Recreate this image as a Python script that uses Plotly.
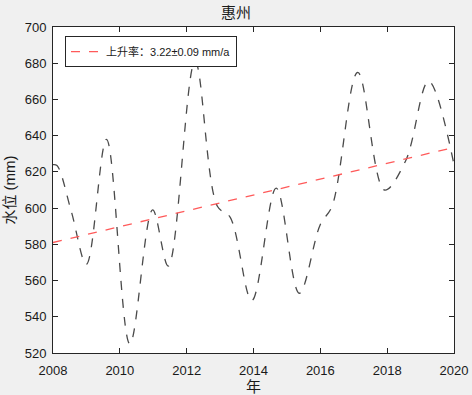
import plotly.graph_objects as go

years = [2008.0, 2008.12, 2008.55, 2009.0, 2009.6, 2010.3, 2010.98, 2011.45, 2012.25,
         2012.92, 2013.3, 2013.95, 2014.68, 2015.37, 2016.0, 2016.35, 2017.12, 2017.92,
         2018.55, 2019.24, 2020.0]
level = [624, 623.5, 598, 569, 638, 525, 599, 568, 681,
         601, 595, 549, 611, 553, 591, 601, 675, 610,
         626, 670, 624]
trend_years = [2008, 2020]
trend_vals = [581, 633.5]
trend_label = "上升率：3.22±0.09 mm/a"
title = "惠州"
xtick_vals = [2008, 2010, 2012, 2014, 2016, 2018, 2020]
ytick_vals = [520, 540, 560, 580, 600, 620, 640, 660, 680, 700]

font_family = "Liberation Sans, Arial, Noto Sans CJK SC, sans-serif"
txt = "#1a1a1a"

fig = go.Figure()
fig.add_trace(go.Scatter(
    x=years, y=level, mode="lines", showlegend=False,
    line=dict(color="#4a4a4a", width=1.3, dash="dash", shape="spline", smoothing=1.0),
))
fig.add_trace(go.Scatter(
    x=trend_years, y=trend_vals, mode="lines", name=trend_label,
    line=dict(color="#ff5a5a", width=1.3, dash="dash"),
))

axis_common = dict(
    showline=True, linecolor="#262626", linewidth=1, mirror="ticks",
    ticks="inside", ticklen=5, tickcolor="#262626", showgrid=False, zeroline=False,
    tickfont=dict(family=font_family, size=13, color=txt), automargin=False,
)
fig.update_xaxes(range=[2008, 2020], tickvals=xtick_vals, ticklabelstandoff=5,
                 title=dict(text="年", font=dict(family=font_family, size=15, color=txt), standoff=2),
                 **axis_common)
fig.update_yaxes(range=[520, 700], tickvals=ytick_vals, ticklabelstandoff=3,
                 title=dict(text="水位 (mm)", font=dict(family=font_family, size=15, color=txt), standoff=5),
                 **axis_common)

fig.update_layout(
    width=472, height=395,
    margin=dict(l=53, r=18, t=27, b=42, autoexpand=False),
    paper_bgcolor="#f0f0f0", plot_bgcolor="white",
    title=dict(text=title, x=0.5, xanchor="center", y=0.98, yanchor="top",
               font=dict(family=font_family, size=15, color=txt)),
    legend=dict(x=0.03, y=0.972, xanchor="left", yanchor="top",
                bgcolor="white", bordercolor="#262626", borderwidth=1,
                font=dict(family=font_family, size=11, color=txt),
                itemwidth=30, tracegroupgap=0),
    showlegend=True,
)

fig.write_html("out.html", config={"displayModeBar": False},
               post_script="document.body.style.margin='0';document.body.style.overflow='hidden';")
